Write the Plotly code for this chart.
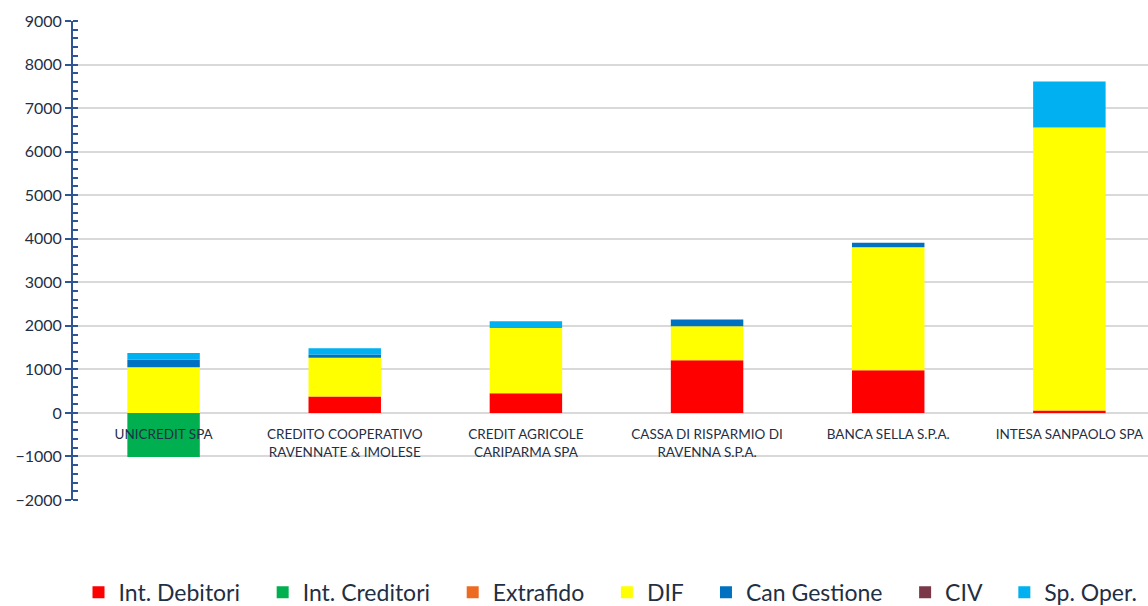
import plotly.graph_objects as go

categories = [
    "UNICREDIT SPA",
    "CREDITO COOPERATIVO<br>RAVENNATE & IMOLESE",
    "CREDIT AGRICOLE<br>CARIPARMA SPA",
    "CASSA DI RISPARMIO DI<br>RAVENNA S.P.A.",
    "BANCA SELLA S.P.A.",
    "INTESA SANPAOLO SPA",
]

int_debitori = [0, 376, 450, 1210, 980, 55]
int_creditori = [-1010, 0, 0, 0, 0, 0]
extrafido = [0, 0, 0, 0, 0, 0]
dif = [1050, 888, 1502, 780, 2825, 6500]
can_gestione = [168, 78, 0, 154, 100, 0]
civ = [0, 0, 0, 0, 0, 0]
sp_oper = [160, 145, 153, 0, 0, 1055]

series = [
    ("Int. Debitori", int_debitori, "#FF0000"),
    ("Int. Creditori", int_creditori, "#00B050"),
    ("Extrafido", extrafido, "#ED6B21"),
    ("DIF", dif, "#FFFF00"),
    ("Can Gestione", can_gestione, "#0070C0"),
    ("CIV", civ, "#7B3848"),
    ("Sp. Oper.", sp_oper, "#00B0F0"),
]

y_ticks = list(range(-2000, 9001, 1000))

FONT = "Lato, 'Open Sans', sans-serif"
TXT = "#1F2F44"
AXC = "#2F5597"
PAD = "\u00a0\u00a0\u00a0"

fig = go.Figure()
for i, (name, vals, col) in enumerate(series):
    label = name + (PAD if i < len(series) - 1 else "")
    fig.add_trace(go.Bar(
        x=categories, y=vals, name=label, width=0.4,
        marker=dict(color=col, line=dict(width=0)),
    ))

fig.update_layout(
    width=1148, height=606,
    barmode="relative",
    plot_bgcolor="white", paper_bgcolor="white",
    margin=dict(l=73, r=0, t=21, b=106, autoexpand=False),
    font=dict(family=FONT, color=TXT),
    legend=dict(
        orientation="h", x=0.5, xanchor="center",
        yref="container", y=0.058, yanchor="top",
        font=dict(size=23, color=TXT), traceorder="normal",
        itemwidth=30,
    ),
    xaxis=dict(
        type="category", categoryorder="array", categoryarray=categories,
        range=[-0.5, 5.434], anchor="free", position=2000 / 11000,
        showline=False, showgrid=False, zeroline=False,
        ticks="outside", ticklen=9, tickcolor="rgba(0,0,0,0)",
        tickfont=dict(size=13.5, color=TXT),
    ),
    yaxis=dict(
        range=[-2000, 9000], tickvals=y_ticks,
        showgrid=True, gridcolor="#D9D9D9", gridwidth=1.5,
        zeroline=False,
        showline=True, linecolor=AXC, linewidth=2,
        ticks="outside", ticklen=6, tickcolor=AXC, tickwidth=2,
        minor=dict(ticks="inside", dtick=200, ticklen=5, tickcolor=AXC, tickwidth=1.5, showgrid=False),
        tickfont=dict(size=16, color=TXT),
    ),
)

fig.write_html(
    "out.html",
    config={"displayModeBar": False},
    post_script="document.body.style.margin='0';document.body.style.overflow='hidden';",
)
